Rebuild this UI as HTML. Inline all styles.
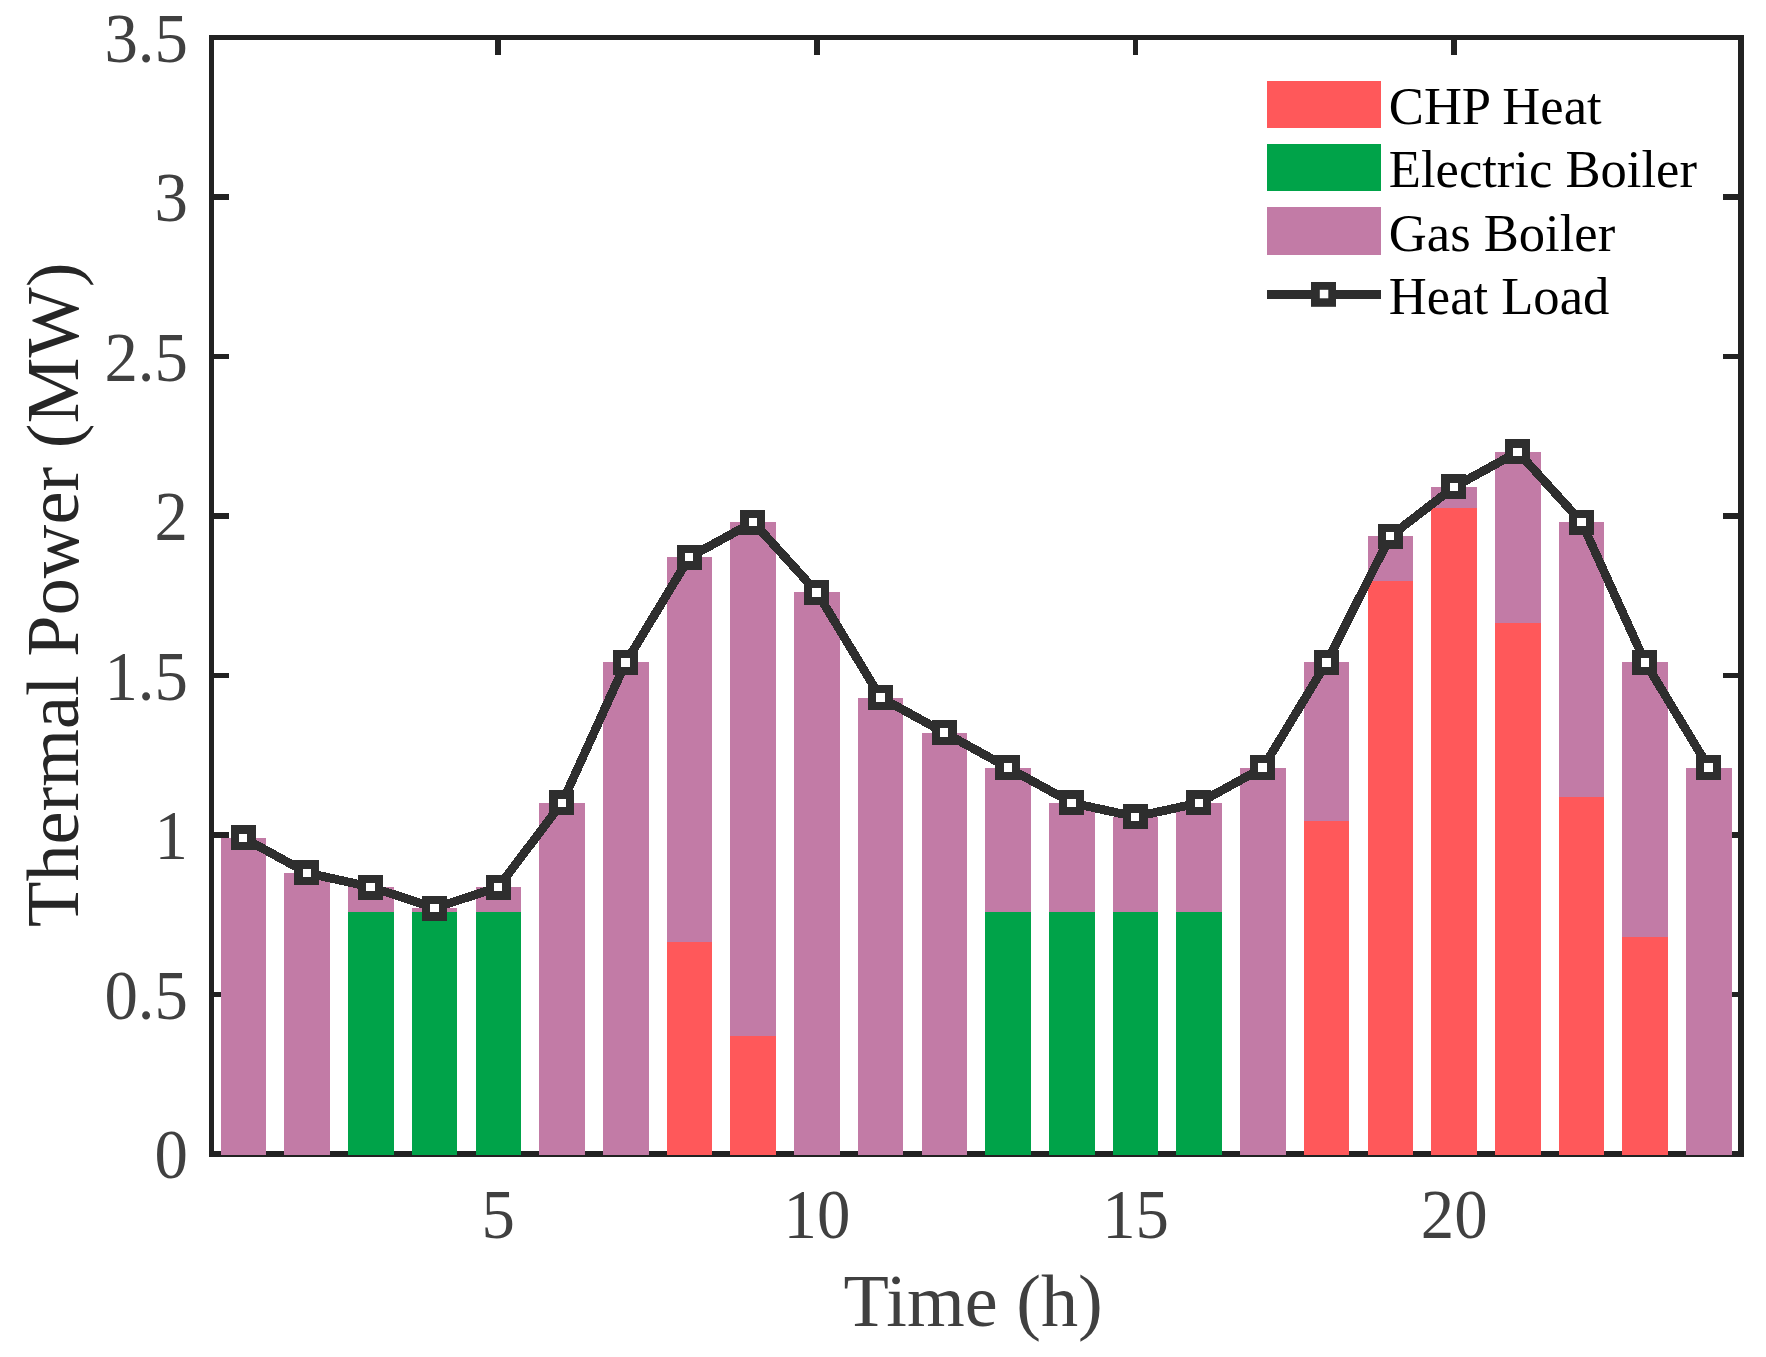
<!DOCTYPE html>
<html lang="en"><head><meta charset="utf-8"><title>Thermal Power Balance</title>
<style>html,body{margin:0;padding:0;background:#fff;}body{width:1766px;height:1357px;overflow:hidden;}svg{display:block;}</style>
</head><body>
<svg width="1766" height="1357" viewBox="0 0 1766 1357">
<rect width="1766" height="1357" fill="#fff"/>
<g fill="#222222" shape-rendering="crispEdges">
<rect x="209" y="35" width="5" height="1122"/>
<rect x="209" y="35" width="1535" height="5"/>
<rect x="1738" y="35" width="6" height="1122"/>
<rect x="209" y="1151" width="1535" height="6"/>
<rect x="211" y="992" width="18" height="5"/><rect x="1723" y="992" width="18" height="5"/>
<rect x="211" y="832" width="18" height="6"/><rect x="1723" y="832" width="18" height="6"/>
<rect x="211" y="673" width="18" height="5"/><rect x="1723" y="673" width="18" height="5"/>
<rect x="211" y="513" width="18" height="6"/><rect x="1723" y="513" width="18" height="6"/>
<rect x="211" y="354" width="18" height="5"/><rect x="1723" y="354" width="18" height="5"/>
<rect x="211" y="194" width="18" height="6"/><rect x="1723" y="194" width="18" height="6"/>
<rect x="495" y="37" width="6" height="18"/><rect x="495" y="1136" width="6" height="18"/>
<rect x="814" y="37" width="6" height="18"/><rect x="814" y="1136" width="6" height="18"/>
<rect x="1133" y="37" width="5" height="18"/><rect x="1133" y="1136" width="5" height="18"/>
<rect x="1451" y="37" width="6" height="18"/><rect x="1451" y="1136" width="6" height="18"/>
</g>
<g shape-rendering="crispEdges">
<rect x="221" y="837.89" width="45" height="317.11" fill="#C27BA6"/>
<rect x="284" y="872.98" width="46" height="282.02" fill="#C27BA6"/>
<rect x="348" y="887.02" width="46" height="267.98" fill="#C27BA6"/>
<rect x="348" y="911.58" width="46" height="243.42" fill="#00A349"/>
<rect x="412" y="908.07" width="45" height="246.93" fill="#C27BA6"/>
<rect x="412" y="911.58" width="45" height="243.42" fill="#00A349"/>
<rect x="476" y="887.02" width="45" height="267.98" fill="#C27BA6"/>
<rect x="476" y="911.58" width="45" height="243.42" fill="#00A349"/>
<rect x="539" y="802.80" width="46" height="352.20" fill="#C27BA6"/>
<rect x="603" y="662.44" width="46" height="492.56" fill="#C27BA6"/>
<rect x="667" y="557.17" width="45" height="597.83" fill="#C27BA6"/>
<rect x="667" y="942.01" width="45" height="212.99" fill="#FF585A"/>
<rect x="730" y="522.08" width="46" height="632.92" fill="#C27BA6"/>
<rect x="730" y="1035.99" width="46" height="119.01" fill="#FF585A"/>
<rect x="794" y="592.26" width="46" height="562.74" fill="#C27BA6"/>
<rect x="858" y="697.53" width="45" height="457.47" fill="#C27BA6"/>
<rect x="922" y="732.62" width="45" height="422.38" fill="#C27BA6"/>
<rect x="985" y="767.71" width="46" height="387.29" fill="#C27BA6"/>
<rect x="985" y="911.58" width="46" height="243.42" fill="#00A349"/>
<rect x="1049" y="802.80" width="46" height="352.20" fill="#C27BA6"/>
<rect x="1049" y="911.58" width="46" height="243.42" fill="#00A349"/>
<rect x="1113" y="816.84" width="45" height="338.16" fill="#C27BA6"/>
<rect x="1113" y="911.58" width="45" height="243.42" fill="#00A349"/>
<rect x="1176" y="802.80" width="46" height="352.20" fill="#C27BA6"/>
<rect x="1176" y="911.58" width="46" height="243.42" fill="#00A349"/>
<rect x="1240" y="767.71" width="46" height="387.29" fill="#C27BA6"/>
<rect x="1304" y="662.44" width="45" height="492.56" fill="#C27BA6"/>
<rect x="1304" y="821.01" width="45" height="333.99" fill="#FF585A"/>
<rect x="1368" y="536.12" width="45" height="618.88" fill="#C27BA6"/>
<rect x="1368" y="581.00" width="45" height="574.00" fill="#FF585A"/>
<rect x="1431" y="486.99" width="46" height="668.01" fill="#C27BA6"/>
<rect x="1431" y="508.01" width="46" height="646.99" fill="#FF585A"/>
<rect x="1495" y="451.90" width="46" height="703.10" fill="#C27BA6"/>
<rect x="1495" y="623.01" width="46" height="531.99" fill="#FF585A"/>
<rect x="1559" y="522.08" width="45" height="632.92" fill="#C27BA6"/>
<rect x="1559" y="796.99" width="45" height="358.01" fill="#FF585A"/>
<rect x="1622" y="662.44" width="46" height="492.56" fill="#C27BA6"/>
<rect x="1622" y="937.00" width="46" height="218.00" fill="#FF585A"/>
<rect x="1686" y="767.71" width="46" height="387.29" fill="#C27BA6"/>
</g>
<polyline points="243.50,837.89 307.22,872.98 370.93,887.02 434.65,908.07 498.37,887.02 562.08,802.80 625.80,662.44 689.52,557.17 753.24,522.08 816.95,592.26 880.67,697.53 944.39,732.62 1008.10,767.71 1071.82,802.80 1135.54,816.84 1199.25,802.80 1262.97,767.71 1326.69,662.44 1390.41,536.12 1454.12,486.99 1517.84,451.90 1581.56,522.08 1645.27,662.44 1708.99,767.71" fill="none" stroke="#2E2E2E" stroke-width="8.8" stroke-linejoin="round" shape-rendering="crispEdges"/>
<g shape-rendering="crispEdges">
<rect x="230.70" y="825.39" width="25.0" height="25.0" fill="#2E2E2E"/><rect x="238.95" y="833.64" width="8.5" height="8.5" fill="#fff"/>
<rect x="294.42" y="860.48" width="25.0" height="25.0" fill="#2E2E2E"/><rect x="302.67" y="868.73" width="8.5" height="8.5" fill="#fff"/>
<rect x="358.13" y="874.52" width="25.0" height="25.0" fill="#2E2E2E"/><rect x="366.38" y="882.77" width="8.5" height="8.5" fill="#fff"/>
<rect x="421.85" y="895.57" width="25.0" height="25.0" fill="#2E2E2E"/><rect x="430.10" y="903.82" width="8.5" height="8.5" fill="#fff"/>
<rect x="485.57" y="874.52" width="25.0" height="25.0" fill="#2E2E2E"/><rect x="493.82" y="882.77" width="8.5" height="8.5" fill="#fff"/>
<rect x="549.28" y="790.30" width="25.0" height="25.0" fill="#2E2E2E"/><rect x="557.53" y="798.55" width="8.5" height="8.5" fill="#fff"/>
<rect x="613.00" y="649.94" width="25.0" height="25.0" fill="#2E2E2E"/><rect x="621.25" y="658.19" width="8.5" height="8.5" fill="#fff"/>
<rect x="676.72" y="544.67" width="25.0" height="25.0" fill="#2E2E2E"/><rect x="684.97" y="552.92" width="8.5" height="8.5" fill="#fff"/>
<rect x="740.44" y="509.58" width="25.0" height="25.0" fill="#2E2E2E"/><rect x="748.69" y="517.83" width="8.5" height="8.5" fill="#fff"/>
<rect x="804.15" y="579.76" width="25.0" height="25.0" fill="#2E2E2E"/><rect x="812.40" y="588.01" width="8.5" height="8.5" fill="#fff"/>
<rect x="867.87" y="685.03" width="25.0" height="25.0" fill="#2E2E2E"/><rect x="876.12" y="693.28" width="8.5" height="8.5" fill="#fff"/>
<rect x="931.59" y="720.12" width="25.0" height="25.0" fill="#2E2E2E"/><rect x="939.84" y="728.37" width="8.5" height="8.5" fill="#fff"/>
<rect x="995.30" y="755.21" width="25.0" height="25.0" fill="#2E2E2E"/><rect x="1003.55" y="763.46" width="8.5" height="8.5" fill="#fff"/>
<rect x="1059.02" y="790.30" width="25.0" height="25.0" fill="#2E2E2E"/><rect x="1067.27" y="798.55" width="8.5" height="8.5" fill="#fff"/>
<rect x="1122.74" y="804.34" width="25.0" height="25.0" fill="#2E2E2E"/><rect x="1130.99" y="812.59" width="8.5" height="8.5" fill="#fff"/>
<rect x="1186.45" y="790.30" width="25.0" height="25.0" fill="#2E2E2E"/><rect x="1194.70" y="798.55" width="8.5" height="8.5" fill="#fff"/>
<rect x="1250.17" y="755.21" width="25.0" height="25.0" fill="#2E2E2E"/><rect x="1258.42" y="763.46" width="8.5" height="8.5" fill="#fff"/>
<rect x="1313.89" y="649.94" width="25.0" height="25.0" fill="#2E2E2E"/><rect x="1322.14" y="658.19" width="8.5" height="8.5" fill="#fff"/>
<rect x="1377.61" y="523.62" width="25.0" height="25.0" fill="#2E2E2E"/><rect x="1385.86" y="531.87" width="8.5" height="8.5" fill="#fff"/>
<rect x="1441.32" y="474.49" width="25.0" height="25.0" fill="#2E2E2E"/><rect x="1449.57" y="482.74" width="8.5" height="8.5" fill="#fff"/>
<rect x="1505.04" y="439.40" width="25.0" height="25.0" fill="#2E2E2E"/><rect x="1513.29" y="447.65" width="8.5" height="8.5" fill="#fff"/>
<rect x="1568.76" y="509.58" width="25.0" height="25.0" fill="#2E2E2E"/><rect x="1577.01" y="517.83" width="8.5" height="8.5" fill="#fff"/>
<rect x="1632.47" y="649.94" width="25.0" height="25.0" fill="#2E2E2E"/><rect x="1640.72" y="658.19" width="8.5" height="8.5" fill="#fff"/>
<rect x="1696.19" y="755.21" width="25.0" height="25.0" fill="#2E2E2E"/><rect x="1704.44" y="763.46" width="8.5" height="8.5" fill="#fff"/>
</g>
<rect x="1267" y="81" width="114" height="47" fill="#FF585A" shape-rendering="crispEdges"/>
<rect x="1267" y="144" width="114" height="47" fill="#00A349" shape-rendering="crispEdges"/>
<rect x="1267" y="207" width="114" height="48" fill="#C27BA6" shape-rendering="crispEdges"/>
<rect x="1267" y="290" width="114" height="9" fill="#2E2E2E" shape-rendering="crispEdges"/>
<rect x="1311" y="282" width="25" height="24.8" fill="#2E2E2E"/><rect x="1319.8" y="289.8" width="8.5" height="8.5" fill="#fff"/>
<g font-family="'Liberation Serif','Times New Roman',Times,serif">
<text transform="translate(1388.8 123.5)" font-size="52.6" text-anchor="start" fill="#000">CHP Heat</text>
<text transform="translate(1388.8 187.0)" font-size="52.6" text-anchor="start" fill="#000">Electric Boiler</text>
<text transform="translate(1388.8 250.5)" font-size="52.6" text-anchor="start" fill="#000">Gas Boiler</text>
<text transform="translate(1388.8 314.0)" font-size="52.6" text-anchor="start" fill="#000">Heat Load</text>
<text transform="translate(188 1178.20) scale(0.955 1)" font-size="70" text-anchor="end" fill="#404040">0</text>
<text transform="translate(188 1018.70) scale(0.955 1)" font-size="70" text-anchor="end" fill="#404040">0.5</text>
<text transform="translate(188 859.20) scale(0.955 1)" font-size="70" text-anchor="end" fill="#404040">1</text>
<text transform="translate(188 699.70) scale(0.955 1)" font-size="70" text-anchor="end" fill="#404040">1.5</text>
<text transform="translate(188 540.20) scale(0.955 1)" font-size="70" text-anchor="end" fill="#404040">2</text>
<text transform="translate(188 380.70) scale(0.955 1)" font-size="70" text-anchor="end" fill="#404040">2.5</text>
<text transform="translate(188 221.20) scale(0.955 1)" font-size="70" text-anchor="end" fill="#404040">3</text>
<text transform="translate(188 61.70) scale(0.955 1)" font-size="70" text-anchor="end" fill="#404040">3.5</text>
<text transform="translate(498.28 1238.2) scale(0.955 1)" font-size="70" text-anchor="middle" fill="#404040">5</text>
<text transform="translate(816.93 1238.2) scale(0.955 1)" font-size="70" text-anchor="middle" fill="#404040">10</text>
<text transform="translate(1135.57 1238.2) scale(0.955 1)" font-size="70" text-anchor="middle" fill="#404040">15</text>
<text transform="translate(1454.22 1238.2) scale(0.955 1)" font-size="70" text-anchor="middle" fill="#404040">20</text>
<text transform="translate(973.2 1325.6) scale(0.99 1)" font-size="75" text-anchor="middle" fill="#404040">Time (h)</text>
<text transform="translate(78.1 594.75) rotate(-90) scale(0.991 1)" font-size="75" text-anchor="middle" fill="#262626">Thermal Power (MW)</text>
</g>
</svg>
</body></html>
